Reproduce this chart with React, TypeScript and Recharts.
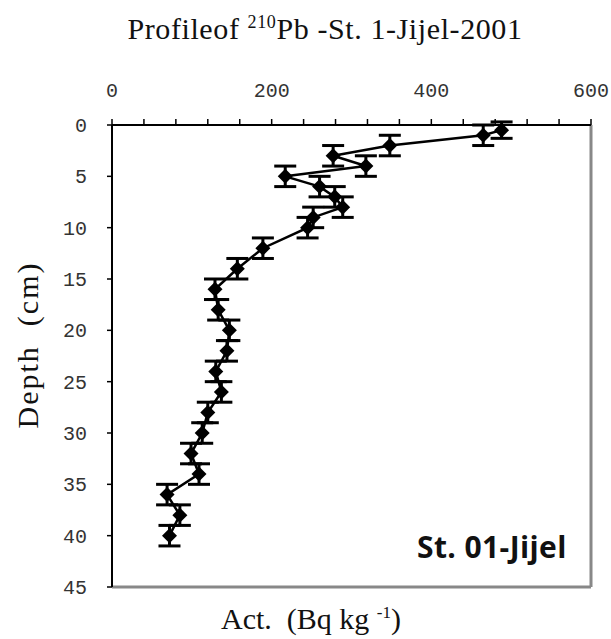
import { ScatterChart, Scatter, XAxis, YAxis, ErrorBar, ReferenceLine } from "recharts"

// depth (cm) and 210Pb activity (Bq/kg)
const depths = [0.5, 1, 2, 3, 4, 5, 6, 7, 8, 9, 10, 12, 14, 16, 18, 20, 22, 24, 26, 28, 30, 32, 34, 36, 38, 40]
const activity = [488, 465, 348, 277, 318, 217, 260, 279, 289, 252, 245, 189, 157, 129, 133, 147, 144, 130, 137, 120, 113, 99, 109, 69, 85, 72]
const depthErr = [0.8, 1, 1, 1, 1, 1, 1, 1, 1, 1, 1, 1, 1, 1, 1, 1, 1, 1, 1, 1, 1, 1, 1, 1, 1, 1]

const xTicks = [0, 40, 80, 120, 160, 200, 240, 280, 320, 360, 400, 440, 480, 520, 560, 600]
const yTicks = [0, 5, 10, 15, 20, 25, 30, 35, 40, 45]

const data = depths.map((d, i) => ({ act: activity[i], depth: d, err: depthErr[i] }))

const tickFont = { fontFamily: "Liberation Mono", fontSize: 20, fill: "#333" }

function Diamond(props: any) {
  const { cx, cy } = props
  const r = 7.5
  return <polygon points={`${cx},${cy - r} ${cx + r},${cy} ${cx},${cy + r} ${cx - r},${cy}`} fill="#000" />
}

export default function App() {
  return (
    <div style={{ position: "absolute", left: 0, top: 0, width: 611, height: 639, background: "#fff" }}>
      <ScatterChart width={611} height={639} margin={{ top: 0, right: 20, bottom: 52, left: 0 }}>
        <XAxis
          type="number"
          dataKey="act"
          orientation="top"
          domain={[0, 600]}
          ticks={xTicks}
          interval={0}
          height={125}
          tickSize={6}
          tickMargin={22}
          tickFormatter={(v: number) => (v % 200 === 0 ? String(v) : "")}
          axisLine={{ stroke: "#000", strokeWidth: 2 }}
          tickLine={{ stroke: "#000", strokeWidth: 1.5 }}
          tick={tickFont}
          allowDataOverflow
        />
        <YAxis
          type="number"
          dataKey="depth"
          reversed
          domain={[0, 45]}
          ticks={yTicks}
          interval={0}
          width={112}
          tickSize={5}
          tickMargin={20}
          axisLine={{ stroke: "#000", strokeWidth: 2 }}
          tickLine={{ stroke: "#000", strokeWidth: 1.5 }}
          tick={tickFont}
          allowDataOverflow
        />
        <ReferenceLine x={600} stroke="#888" strokeWidth={3} />
        <ReferenceLine y={45} stroke="#888" strokeWidth={3} />
        <Scatter
          data={data}
          fill="#000"
          shape={Diamond}
          line={{ stroke: "#000", strokeWidth: 2.5 }}
          lineType="joint"
          isAnimationActive={false}
        >
          <ErrorBar dataKey="err" direction="y" width={11} stroke="#000" strokeWidth={3} />
        </Scatter>
      </ScatterChart>

      <div
        style={{
          position: "absolute", left: 0, width: 650, top: 12, textAlign: "center",
          fontFamily: "Liberation Serif", fontSize: 30, letterSpacing: 0.6, color: "#111", whiteSpace: "nowrap",
        }}
      >
        Profileof <sup style={{ fontSize: 18 }}>210</sup>Pb -St. 1-Jijel-2001
      </div>

      <div
        style={{
          position: "absolute", left: 0, width: 622, top: 602, textAlign: "center",
          fontFamily: "Liberation Serif", fontSize: 30, color: "#111", whiteSpace: "nowrap",
        }}
      >
        Act.&nbsp; (Bq kg <sup style={{ fontSize: 17 }}>-1</sup>)
      </div>

      <div
        style={{
          position: "absolute", left: 28, top: 345, transform: "translate(-50%, -50%) rotate(-90deg)",
          fontFamily: "Liberation Serif", fontSize: 30, letterSpacing: 2, color: "#111", whiteSpace: "nowrap",
        }}
      >
        Depth&nbsp; (cm)
      </div>

      <div
        style={{
          position: "absolute", left: 417, top: 526, fontFamily: "Open Sans", fontWeight: 700,
          fontSize: 30, letterSpacing: 0.4, color: "#111", whiteSpace: "nowrap",
        }}
      >
        St. 01-Jijel
      </div>
    </div>
  )
}
